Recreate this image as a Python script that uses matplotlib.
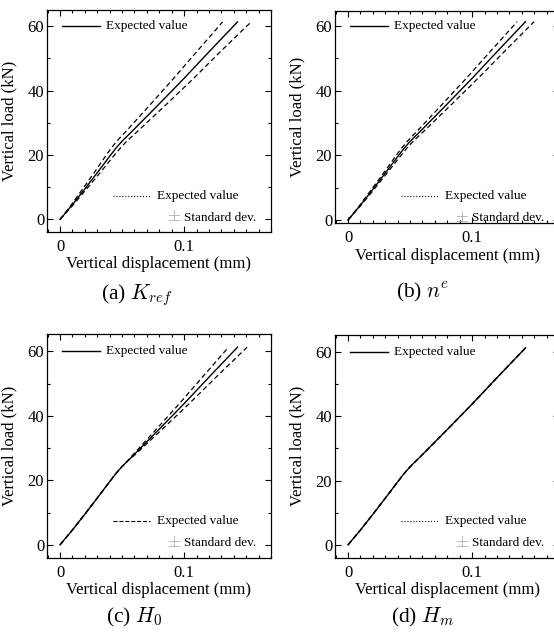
import matplotlib
matplotlib.use("Agg")
import matplotlib.pyplot as plt
from matplotlib.ticker import MultipleLocator
from matplotlib.transforms import blended_transform_factory

plt.rcParams['font.family'] = ['Liberation Serif', 'DejaVu Serif']
plt.rcParams['mathtext.fontset'] = 'cm'

# vertical load levels (kN) shared by every curve
load = [0, 4.6, 9.5, 14.5, 19.6, 22.1, 24.3, 26.2, 28.1, 35.9, 43.8, 52.0, 61.3]

# expected displacement (mm)
disp_mean = [0, 0.010, 0.020, 0.030, 0.040, 0.045, 0.050, 0.055, 0.060, 0.080, 0.100, 0.120, 0.143]

# mean +/- std curves for each parameter
kref_lo = [0, 0.0092, 0.0183, 0.0275, 0.0366, 0.0412, 0.0458, 0.0504, 0.0550, 0.0733, 0.0916, 0.1100, 0.1310]
kref_hi = [0, 0.0108, 0.0215, 0.0323, 0.0430, 0.0485, 0.0538, 0.0592, 0.0646, 0.0862, 0.1077, 0.1290, 0.1540]
ne_lo = [0, 0.0095, 0.0190, 0.0286, 0.0381, 0.0429, 0.0477, 0.0524, 0.0572, 0.0762, 0.0953, 0.1144, 0.1363]
ne_hi = [0, 0.0105, 0.0210, 0.0314, 0.0419, 0.0472, 0.0524, 0.0576, 0.0629, 0.0838, 0.1048, 0.1258, 0.1499]
h0_lo = [0, 0.010, 0.020, 0.030, 0.040, 0.045, 0.050, 0.0548, 0.0592, 0.0777, 0.0962, 0.1147, 0.1358]
h0_hi = [0, 0.010, 0.020, 0.030, 0.040, 0.045, 0.050, 0.0552, 0.0608, 0.0825, 0.1041, 0.1257, 0.1507]
hm_lo = [0, 0.010, 0.020, 0.030, 0.040, 0.045, 0.050, 0.055, 0.060, 0.080, 0.100, 0.120, 0.143]
hm_hi = [0, 0.010, 0.020, 0.030, 0.040, 0.045, 0.050, 0.055, 0.060, 0.080, 0.100, 0.120, 0.143]

captions = ['(a) $K_{ref}$', '(b) $n^e$', '(c) $H_0$', '(d) $H_m$']
legend_styles = [':', ':', '--', ':']

W, H = 554, 637
fig = plt.figure(figsize=(W / 100, H / 100), dpi=100)


def add_ax(left, top, width, height):
    return fig.add_axes((left / W, 1 - (top + height) / H, width / W, height / H))


# left, top, width, height (px), ylim, caption position
panels = [
    ((47, 10, 224, 222), (-3.9, 65.0), (137, 295), kref_lo, kref_hi),
    ((335, 11, 224, 212.3), (-1.0, 64.6), (423, 292), ne_lo, ne_hi),
    ((47, 334, 224, 224), (-4.1, 65.4), (134, 617), h0_lo, h0_hi),
    ((335, 334.7, 224, 223.3), (-4.1, 65.4), (423, 617), hm_lo, hm_hi),
]

for i, (box, ylim, cap, lo, hi) in enumerate(panels):
    ax = add_ax(*box)
    ax.plot(disp_mean, load, color='k', lw=1.0)
    ax.plot(lo, load, color='k', lw=0.9, dashes=(4, 2.5))
    ax.plot(hi, load, color='k', lw=0.9, dashes=(4, 2.5))

    ax.set_xlim(-0.0105, 0.170)
    ax.set_ylim(*ylim)
    ax.set_xticks([0, 0.1])
    ax.set_xticklabels(['0', '0.1'])
    ax.set_yticks([0, 20, 40, 60])
    ax.xaxis.set_minor_locator(MultipleLocator(0.01))
    ax.yaxis.set_minor_locator(MultipleLocator(10))
    ax.tick_params(which='both', direction='in', top=True, right=True,
                   labelsize=12, width=0.8)
    ax.tick_params(which='major', length=4.5)
    ax.tick_params(which='minor', length=2.5)
    ax.tick_params(axis='x', pad=5)
    ax.tick_params(axis='y', pad=2)
    for s in ax.spines.values():
        s.set_linewidth(0.9)
    ax.set_xlabel('Vertical displacement (mm)', fontsize=12, labelpad=1)
    ax.set_ylabel('Vertical load (kN)', fontsize=12, labelpad=7)

    # hand-made legends
    tr = blended_transform_factory(ax.transAxes, ax.transData)
    ax.plot([0.067, 0.235], [60, 60], transform=tr, color='k', lw=1.0)
    ax.text(0.265, 60, 'Expected value', transform=tr, fontsize=9.5, va='center')
    ax.plot([0.295, 0.46], [7.3, 7.3], transform=tr, color='k', lw=0.8,
            ls=legend_styles[i])
    ax.text(0.49, 7.3, 'Expected value', transform=tr, fontsize=9.5, va='center')
    ax.text(0.535, 0.7, r'$\pm$', transform=tr, fontsize=12, va='center', color='0.6')
    ax.text(0.61, 0.5, 'Standard dev.', transform=tr, fontsize=9.5, va='center')

    fig.text(cap[0] / W, 1 - cap[1] / H, captions[i], fontsize=15.5,
             ha='center', va='center')

fig.savefig('out.png', dpi=100)
